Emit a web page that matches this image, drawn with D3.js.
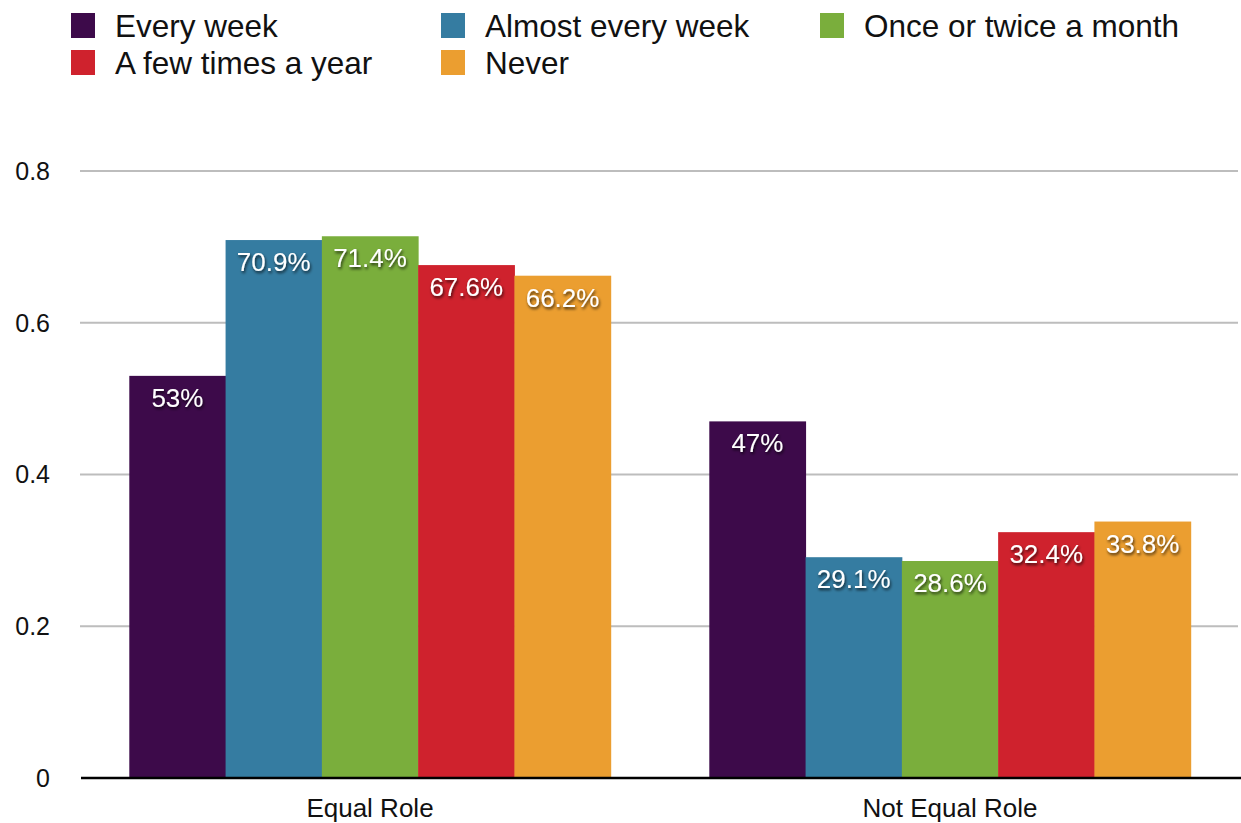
<!DOCTYPE html>
<html><head><meta charset="utf-8">
<script src="https://cdn.jsdelivr.net/npm/d3@7"></script>
<style>body{margin:0;background:#fff;}text{font-family:"Liberation Sans",Arial,Helvetica,sans-serif;}</style>
</head><body>
<svg id="c" width="1241" height="823"></svg>
<script>
const categories = ["Equal Role", "Not Equal Role"];
const seriesNames = ["Every week", "Almost every week", "Once or twice a month", "A few times a year", "Never"];
const seriesColors = ["#3d0a4a", "#357ca1", "#7aae3c", "#cf222d", "#eb9e30"];
const everyWeek = [0.53, 0.47];
const almostEveryWeek = [0.709, 0.291];
const onceOrTwiceMonth = [0.714, 0.286];
const fewTimesYear = [0.676, 0.324];
const never = [0.662, 0.338];
const valueLabels = [["53%", "47%"], ["70.9%", "29.1%"], ["71.4%", "28.6%"], ["67.6%", "32.4%"], ["66.2%", "33.8%"]];
const yTicks = [0, 0.2, 0.4, 0.6, 0.8];
const yTickLabels = ["0", "0.2", "0.4", "0.6", "0.8"];

const seriesValues = [everyWeek, almostEveryWeek, onceOrTwiceMonth, fewTimesYear, never];

const svg = d3.select("#c");
const defs = svg.append("defs");
const f = defs.append("filter").attr("id", "sh").attr("x", "-20%").attr("y", "-40%").attr("width", "140%").attr("height", "180%");
f.append("feDropShadow").attr("dx", 1).attr("dy", 2).attr("stdDeviation", 1.8).attr("flood-color", "#000").attr("flood-opacity", 0.75);

const plotLeft = 80, plotRight = 1240, plotTop = 171, plotBottom = 778;
const y = d3.scaleLinear().domain([0, 0.8]).range([plotBottom, plotTop]);
const x0 = d3.scaleBand().domain(categories).range([plotLeft, plotRight]).paddingInner(0.17).paddingOuter(0.085);
const x1 = d3.scaleBand().domain(seriesNames).range([0, x0.bandwidth()]).padding(0);

// gridlines
svg.append("g").selectAll("line").data(yTicks.filter(d => d > 0)).join("line")
  .attr("x1", plotLeft).attr("x2", 1238).attr("y1", d => y(d)).attr("y2", d => y(d))
  .attr("stroke", "#bdbdbd").attr("stroke-width", 2);

// y tick labels
svg.append("g").selectAll("text").data(yTicks).join("text")
  .attr("x", 50).attr("y", d => y(d)).attr("dy", "0.35em").attr("text-anchor", "end")
  .attr("font-size", 25).attr("fill", "#111").text((d, i) => yTickLabels[i]);

// bars
const groups = svg.append("g").selectAll("g").data(categories).join("g")
  .attr("transform", d => `translate(${x0(d)},0)`);
groups.each(function(cat, ci) {
  const g = d3.select(this);
  seriesNames.forEach((s, si) => {
    const v = seriesValues[si][ci];
    g.append("rect").attr("x", x1(s)).attr("width", x1.bandwidth() + 0.5)
      .attr("y", y(v)).attr("height", y(0) - y(v)).attr("fill", seriesColors[si]);
  });
  seriesNames.forEach((s, si) => {
    const v = seriesValues[si][ci];
    g.append("text").attr("x", x1(s) + x1.bandwidth() / 2).attr("y", y(v) + 31)
      .attr("text-anchor", "middle").attr("font-size", 26).attr("fill", "#fff")
      .attr("filter", "url(#sh)").text(valueLabels[si][ci]);
  });
});

// x axis line
svg.append("line").attr("x1", plotLeft + 1).attr("x2", 1241).attr("y1", y(0)).attr("y2", y(0))
  .attr("stroke", "#000").attr("stroke-width", 2.5);

// category labels
svg.append("g").selectAll("text").data(categories).join("text")
  .attr("x", d => x0(d) + x0.bandwidth() / 2).attr("y", 808).attr("dy", "0.35em")
  .attr("text-anchor", "middle").attr("font-size", 26).attr("fill", "#111").text(d => d);

// legend
const legendPos = [[71, 13], [441, 13], [820, 13], [71, 50], [441, 50]];
const lg = svg.append("g").selectAll("g").data(seriesNames).join("g")
  .attr("transform", (d, i) => `translate(${legendPos[i][0]},${legendPos[i][1]})`);
lg.append("rect").attr("width", 24).attr("height", 25).attr("fill", (d, i) => seriesColors[i]);
lg.append("text").attr("x", 44).attr("y", 12.5).attr("dy", "0.36em").attr("font-size", 31.5)
  .attr("fill", "#111").text(d => d);
</script>
</body></html>
